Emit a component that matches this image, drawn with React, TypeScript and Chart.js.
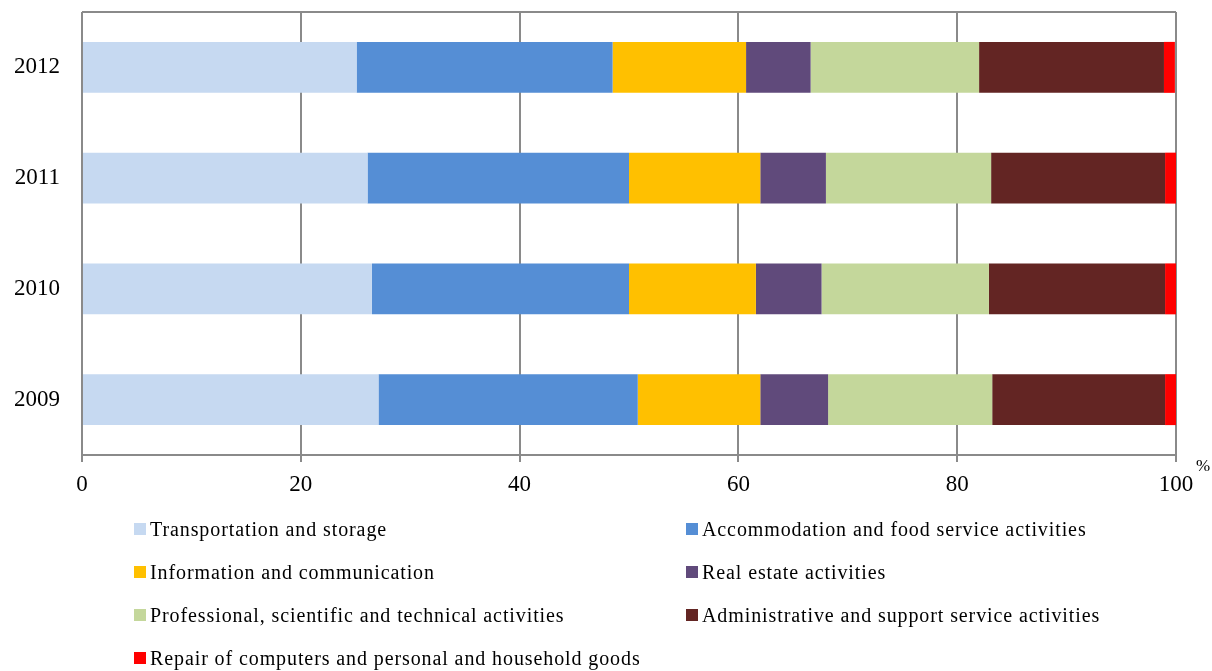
import React, { useEffect, useRef } from "react";
import { Chart, registerables } from "chart.js";

Chart.register(...registerables);

const categories = ["2012", "2011", "2010", "2009"];
const seriesNames = [
  "Transportation and storage",
  "Accommodation and food service activities",
  "Information and communication",
  "Real estate activities",
  "Professional, scientific and technical activities",
  "Administrative and support service activities",
  "Repair of computers and personal and household goods",
];
const transport = [25.1, 26.1, 26.5, 27.1];
const accommodation = [23.4, 23.9, 23.5, 23.7];
const information = [12.2, 12.0, 11.6, 11.2];
const realEstate = [5.9, 6.0, 6.0, 6.2];
const professional = [15.4, 15.1, 15.3, 15.0];
const administrative = [16.9, 15.9, 16.1, 15.8];
const repair = [1.0, 1.0, 1.0, 1.0];
const xTicks = [0, 20, 40, 60, 80, 100];

const colors = ["#C6D9F1", "#558ED5", "#FFC000", "#604A7B", "#C4D79B", "#632523", "#FF0000"];
const FONT = "'Liberation Serif', 'Times New Roman', serif";
const GRID = "#8a8a8a";

export default function App() {
  const ref = useRef<HTMLCanvasElement | null>(null);
  useEffect(() => {
    if (!ref.current) return;
    const values = [transport, accommodation, information, realEstate, professional, administrative, repair];
    const frame = {
      id: "frame",
      afterDraw(chart: any) {
        const { ctx, chartArea } = chart;
        ctx.save();
        ctx.strokeStyle = GRID;
        ctx.lineWidth = 2;
        ctx.beginPath();
        ctx.moveTo(chartArea.left, chartArea.top);
        ctx.lineTo(chartArea.right, chartArea.top);
        ctx.stroke();
        ctx.fillStyle = "#000";
        ctx.font = `17px ${FONT}`;
        ctx.textAlign = "left";
        ctx.textBaseline = "middle";
        ctx.fillText("%", chartArea.right + 20, chartArea.bottom + 12);
        ctx.restore();
      },
    };
    const chart = new Chart(ref.current, {
      type: "bar",
      data: {
        labels: categories,
        datasets: seriesNames.map((n, i) => ({
          label: n,
          data: values[i],
          backgroundColor: colors[i],
          borderWidth: 0,
          categoryPercentage: 1,
          barPercentage: 0.46,
        })),
      },
      options: {
        indexAxis: "y",
        animation: false,
        responsive: true,
        maintainAspectRatio: false,
        layout: { padding: { top: 12, right: 36, bottom: 176, left: 0 } },
        plugins: { legend: { display: false }, tooltip: { enabled: false } },
        scales: {
          x: {
            stacked: true,
            min: 0,
            max: 100,
            afterBuildTicks: (s: any) => {
              s.ticks = xTicks.map((v) => ({ value: v }));
            },
            afterFit: (s: any) => {
              s.height = 40;
              s.paddingLeft = 0;
              s.paddingRight = 0;
            },
            grid: { color: GRID, lineWidth: 2, tickLength: 7, drawTicks: true },
            border: { color: GRID, width: 2 },
            ticks: { color: "#000", font: { family: FONT, size: 23 }, padding: 9, maxRotation: 0 },
          },
          y: {
            stacked: true,
            afterFit: (s: any) => {
              s.width = 82;
              s.paddingTop = 0;
              s.paddingBottom = 0;
            },
            grid: { display: false },
            border: { display: false },
            ticks: { color: "#000", font: { family: FONT, size: 23 }, padding: 14 },
          },
        },
      },
      plugins: [frame],
    });
    return () => chart.destroy();
  }, []);

  const rows = [529, 572, 615, 658];
  const legendItems = seriesNames.map((n, i) => {
    const col = i % 2;
    const row = Math.floor(i / 2);
    return { n, c: colors[i], x: col === 0 ? 134 : 686, y: rows[row] };
  });

  return (
    <div style={{ position: "absolute", left: 0, top: 0, width: 1212, height: 671, background: "#fff" }}>
      <canvas ref={ref} />
      {legendItems.map((it) => (
        <div
          key={it.n}
          style={{
            position: "absolute",
            left: it.x,
            top: it.y - 12,
            height: 24,
            display: "flex",
            alignItems: "center",
            fontFamily: FONT,
            fontSize: 20,
            letterSpacing: "0.9px",
            color: "#000",
            whiteSpace: "nowrap",
          }}
        >
          <span style={{ display: "inline-block", width: 12, height: 12, background: it.c, marginRight: 4 }} />
          <span>{it.n}</span>
        </div>
      ))}
    </div>
  );
}
